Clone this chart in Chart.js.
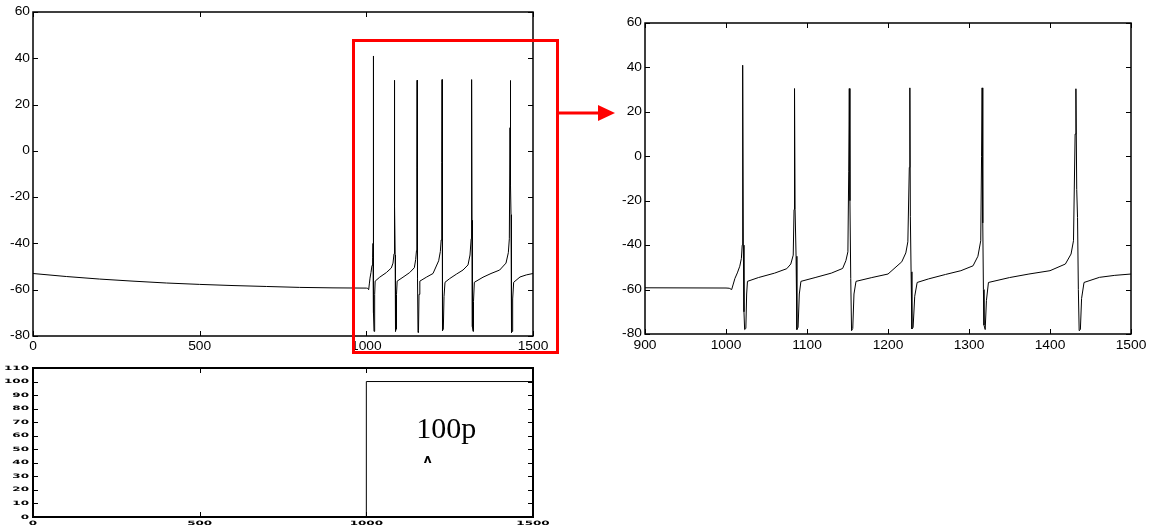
<!DOCTYPE html>
<html>
<head>
<meta charset="utf-8">
<script src="https://cdn.jsdelivr.net/npm/chart.js@4"></script>
<style>
  body { margin: 0; background: #fff; width: 1158px; height: 529px; position: relative; overflow: hidden; }
  canvas { position: absolute; }
  #zoomBox { position: absolute; left: 352px; top: 39px; width: 207px; height: 315px; box-sizing: border-box; border: 3px solid #f00; }
  #arrow { position: absolute; left: 0; top: 0; }
</style>
</head>
<body>
<canvas id="traceChart" width="560" height="355" style="left:0;top:0"></canvas>
<canvas id="stimChart" width="560" height="174" style="left:0;top:355px"></canvas>
<canvas id="zoomChart" width="558" height="355" style="left:600px;top:0"></canvas>
<div id="zoomBox"></div>
<svg id="arrow" width="1158" height="529">
  <line x1="559" y1="113" x2="601" y2="113" stroke="#f00" stroke-width="3"/>
  <polygon points="598,105 615,113 598,121" fill="#f00"/>
</svg>
<script>
// membrane potential (mV) vs time (ms)
const vTime = [0, 100, 200, 300, 400, 500, 600, 700, 800, 900, 1000,
  1004, 1007, 1009, 1011, 1014, 1017, 1019, 1020, 1020.6, 1021.4, 1022.2, 1023, 1024.5, 1025.5, 1026.5,
  1040, 1060, 1075, 1080, 1083, 1084, 1084.6, 1085.3, 1086.5, 1087.5, 1089, 1090.5, 1092.5,
  1110, 1130, 1144, 1148, 1150.5, 1151.5, 1152.2, 1153, 1154, 1155, 1156.5, 1158, 1160.5,
  1180, 1200, 1217, 1222, 1224.5, 1226.3, 1227, 1227.6, 1228.5, 1229.5, 1231, 1233, 1236,
  1250, 1271, 1290, 1305, 1311, 1314.5, 1315.5, 1316.2, 1317, 1317.8, 1318.5, 1320, 1321.5, 1324,
  1350, 1374, 1400, 1419, 1426, 1429, 1431, 1432, 1433, 1434, 1435, 1436, 1437.5, 1439, 1442,
  1461, 1480, 1500];
const vVolt = [-53.0, -54.3, -55.4, -56.3, -57.1, -57.7, -58.2, -58.6, -59.0, -59.2, -59.3,
  -59.4, -60.0, -57.5, -55.0, -52.5, -49.5, -46.0, -40.0, 41.0, -40.0, -70.0, -78.0, -77.5, -62.0, -56.3,
  -54.6, -52.6, -50.6, -48.5, -44.5, -24.0, 30.5, -24.0, -45.0, -78.0, -77.0, -62.0, -56.3,
  -54.6, -52.6, -50.5, -47.0, -43.0, -7.0, 30.5, -20.0, -55.0, -78.5, -77.5, -62.0, -56.3,
  -54.6, -53.0, -47.5, -43.5, -38.5, -5.0, 30.8, -27.0, -52.0, -77.7, -77.0, -63.0, -56.8,
  -55.2, -53.2, -51.5, -49.3, -45.0, -38.0, 0.0, 30.8, -30.0, -60.0, -76.0, -78.0, -65.0, -56.8,
  -54.6, -53.0, -51.5, -48.5, -44.0, -38.0, 10.0, 30.4, -15.0, -27.6, -60.0, -78.5, -78.0, -64.0, -56.8,
  -54.5, -53.6, -53.0];

// injected current step
const stimTime = [0, 1000, 1000, 1500];
const stimAmp = [0, 0, 100, 100];

// annotation on the current panel
const noteText = '100p';
const noteX = 1150;
const noteY = 58.5;
const caretText = 'ʌ';
const caretX = 1184;
const caretY = 40;

const toPoints = (xs, ys) => xs.map((x, i) => ({ x: x, y: ys[i] }));

// box plus inward tick marks on all four sides (matlab look)
const framePlugin = {
  id: 'frame',
  afterDatasetsDraw(chart, args, opts) {
    const { ctx, chartArea: a, scales } = chart;
    const len = opts.tick || 5;
    ctx.save();
    ctx.strokeStyle = '#000';
    ctx.lineWidth = opts.lw || 1;
    ctx.strokeRect(a.left, a.top, a.right - a.left, a.bottom - a.top);
    ctx.lineWidth = 1;
    ctx.beginPath();
    scales.x.ticks.forEach(t => {
      const px = Math.round(scales.x.getPixelForValue(t.value)) + 0.5;
      ctx.moveTo(px, a.bottom); ctx.lineTo(px, a.bottom - len);
      ctx.moveTo(px, a.top); ctx.lineTo(px, a.top + len);
    });
    scales.y.ticks.forEach(t => {
      const py = Math.round(scales.y.getPixelForValue(t.value)) + 0.5;
      ctx.moveTo(a.left, py); ctx.lineTo(a.left + len, py);
      ctx.moveTo(a.right, py); ctx.lineTo(a.right - len, py);
    });
    ctx.stroke();

    // tick labels, stretched sideways like the exported figure
    const L = opts.labels;
    ctx.fillStyle = L.color;
    ctx.font = L.font;
    ctx.textBaseline = 'middle';
    scales.y.ticks.forEach(t => {
      ctx.save();
      ctx.translate(a.left - L.yGap, scales.y.getPixelForValue(t.value));
      ctx.scale(L.sx, 1);
      ctx.textAlign = 'right';
      ctx.fillText(String(t.value), 0, 0);
      ctx.restore();
    });
    scales.x.ticks.forEach(t => {
      ctx.save();
      ctx.translate(scales.x.getPixelForValue(t.value), a.bottom + L.xGap);
      ctx.scale(L.sx, 1);
      ctx.textAlign = 'center';
      ctx.fillText(String(t.value), 0, 0);
      ctx.restore();
    });
    ctx.restore();
  }
};

// text note of the lower panel
const notePlugin = {
  id: 'note',
  afterDraw(chart) {
    const { ctx, scales } = chart;
    ctx.save();
    ctx.fillStyle = '#000';
    ctx.textBaseline = 'alphabetic';
    ctx.textAlign = 'left';
    ctx.font = '30px "Liberation Serif"';
    ctx.fillText(noteText, scales.x.getPixelForValue(noteX), scales.y.getPixelForValue(noteY));
    ctx.textAlign = 'center';
    ctx.font = 'bold 12px "DejaVu Sans"';
    ctx.fillText(caretText, scales.x.getPixelForValue(caretX), scales.y.getPixelForValue(caretY));
    ctx.restore();
  }
};

function makeChart(id, pts, o) {
  return new Chart(document.getElementById(id), {
    type: 'scatter',
    data: {
      datasets: [{
        data: pts,
        showLine: true,
        borderColor: '#000',
        borderWidth: 1,
        pointRadius: 0,
        tension: 0
      }]
    },
    options: {
      responsive: false,
      animation: false,
      layout: { padding: { top: o.padTop, right: o.padRight, left: 0, bottom: 0 } },
      plugins: {
        legend: { display: false },
        tooltip: { enabled: false },
        frame: { lw: o.frameWidth, tick: 5, labels: o.labels }
      },
      scales: {
        x: {
          type: 'linear',
          min: o.xMin, max: o.xMax,
          grid: { display: false, drawTicks: false },
          border: { display: false },
          ticks: { display: false, stepSize: o.xStep },
          afterFit(s) { s.height = o.xAxisH; s.paddingLeft = 0; s.paddingRight = 0; }
        },
        y: {
          min: o.yMin, max: o.yMax,
          grid: { display: false, drawTicks: false },
          border: { display: false },
          ticks: { display: false, stepSize: o.yStep },
          afterFit(s) { s.width = o.yAxisW; s.paddingTop = 0; s.paddingBottom = 0; }
        }
      }
    },
    plugins: o.extra ? [framePlugin, o.extra] : [framePlugin]
  });
}

const bigLabels = { font: '12px "Liberation Sans"', sx: 1.15, color: '#000', yGap: 3, xGap: 11 };

makeChart('traceChart', toPoints(vTime, vVolt), {
  padTop: 12, padRight: 27, xAxisH: 19, yAxisW: 33,
  xMin: 0, xMax: 1500, xStep: 500, yMin: -80, yMax: 60, yStep: 20,
  frameWidth: 1.5, labels: bigLabels
});

makeChart('stimChart', toPoints(stimTime, stimAmp), {
  padTop: 13, padRight: 27, xAxisH: 12, yAxisW: 33,
  xMin: 0, xMax: 1500, xStep: 500, yMin: 0, yMax: 110, yStep: 10,
  frameWidth: 2, extra: notePlugin,
  labels: { font: 'bold 6px "DejaVu Sans"', sx: 2.0, color: '#000', yGap: 4, xGap: 6 }
});

makeChart('zoomChart', toPoints(vTime, vVolt), {
  padTop: 23, padRight: 27, xAxisH: 21, yAxisW: 45,
  xMin: 900, xMax: 1500, xStep: 100, yMin: -80, yMax: 60, yStep: 20,
  frameWidth: 1.5, labels: Object.assign({}, bigLabels, { yGap: 3, xGap: 11.5 })
});
</script>
</body>
</html>
